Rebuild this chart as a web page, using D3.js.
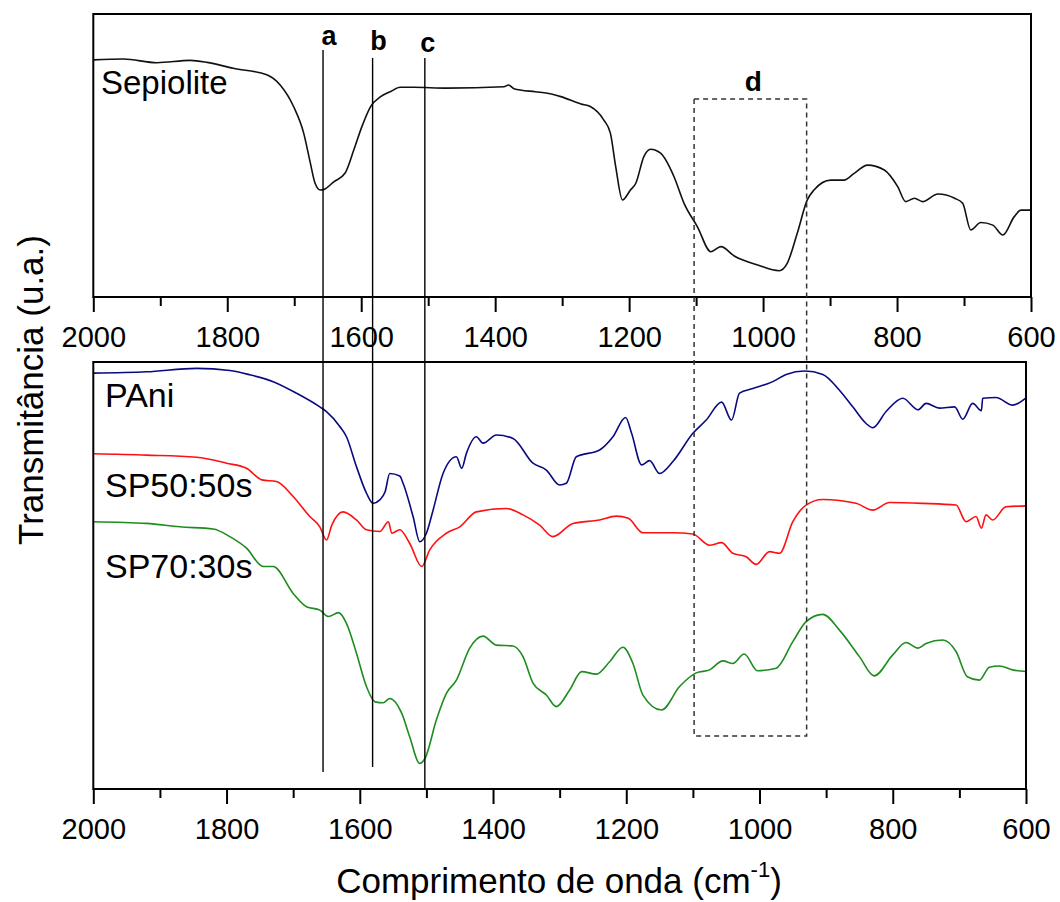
<!DOCTYPE html>
<html>
<head>
<meta charset="utf-8">
<script src="https://cdn.jsdelivr.net/npm/d3@7"></script>
<style>
  body { margin: 0; background: #fff; }
  svg text { font-family: "Liberation Sans", Arial, sans-serif; fill: #000; }
</style>
</head>
<body>
<script>
// Espectros FTIR - leitura aproximada da figura (transmitancia em u.a., 0-100)
var sepWn = [2000,1955,1905,1855,1830,1791,1741,1721,1701,1686,1676,1669,1661,1654,1641,1624,1611,1599,1586,1571,1556,1542,1522,1472,1387,1380,1372,1340,1322,1302,1272,1258,1238,1228,1220,1210,1198,1190,1178,1168,1153,1133,1118,1098,1078,1063,1043,1008,976,964,949,934,924,899,879,864,844,819,799,787,774,762,739,714,702,690,675,657,642,625,615,600];
var sepT  = [83.8,84.1,82.8,83.6,82.9,80.8,78.5,74.9,67.3,58.0,47.4,40.3,37.8,38.2,40.7,43.8,52.0,60.2,67.3,70.8,72.6,74.1,74.1,73.8,74.3,74.9,73.6,72.5,72.0,70.8,68.2,67.3,62.6,57.9,46.0,34.3,37.8,40.2,49.6,52.2,50.8,42.5,33.1,24.8,16.0,17.8,14.5,11.3,9.3,11.9,22.5,34.3,37.8,41.3,41.3,43.7,46.6,44.9,39.0,33.7,34.9,33.7,36.4,34.9,33.1,23.7,26.3,25.4,21.9,28.4,30.7,30.7];

var paniWn = [2000,1920,1845,1795,1765,1730,1695,1660,1650,1630,1620,1605,1590,1580,1570,1562,1555,1540,1535,1520,1510,1500,1490,1475,1455,1447,1440,1425,1415,1395,1370,1340,1320,1300,1290,1275,1240,1220,1201,1192,1177,1165,1150,1130,1100,1080,1057,1042,1030,1010,980,960,932,905,880,860,840,830,810,785,762,750,730,707,695,680,667,665,645,620,600];
var paniT  = [97.4,97.7,98.5,98.0,97.0,95.4,92.7,89.5,88.4,84.9,82.5,75.5,69.3,66.9,67.7,69.6,73.9,73.3,71.6,63.8,57.9,59.9,65.3,73.9,77.8,75.1,78.6,82.5,81.0,82.9,82.1,76.3,74.7,71.2,71.6,77.8,79.4,82.5,87.0,83.3,75.9,76.9,73.9,76.7,83.3,86.4,90.6,86.4,92.7,93.8,95.4,97.1,97.9,97.1,93.4,89.5,85.6,84.6,88.4,91.5,88.8,90.3,89.2,89.5,86.6,90.3,88.6,91.5,91.7,89.9,91.6];

var sp50Wn = [2000,1920,1845,1800,1770,1747,1725,1700,1675,1660,1650,1642,1625,1605,1590,1570,1557,1552,1540,1525,1507,1495,1470,1450,1425,1380,1355,1330,1310,1280,1240,1215,1197,1175,1130,1100,1075,1057,1040,1020,1005,985,970,950,930,905,855,830,805,755,705,690,675,667,660,650,630,600];
var sp50T  = [78.5,78.2,77.7,76.3,75.1,72.4,72.0,68.5,63.8,61.4,58.3,61.8,64.9,63.0,60.7,60.3,62.6,59.9,60.7,57.5,52.1,56.0,59.9,61.4,64.9,65.7,64.2,61.8,59.1,62.2,63.0,63.9,63.4,60.0,60.0,59.7,57.1,57.7,55.2,54.4,52.6,55.6,55.2,62.6,66.5,67.8,66.9,65.3,67.1,66.9,66.5,62.6,63.8,61.1,64.2,63.0,66.1,66.3];

var sp70Wn = [2000,1920,1870,1820,1795,1770,1745,1730,1700,1680,1660,1647,1632,1620,1605,1590,1577,1565,1555,1537,1525,1510,1502,1485,1470,1455,1435,1415,1395,1370,1355,1340,1320,1305,1285,1267,1245,1225,1205,1190,1175,1147,1120,1095,1075,1055,1040,1023,1003,975,950,930,905,880,850,828,800,780,762,750,725,705,688,670,655,640,620,600];
var sp70T  = [62.6,62.2,61.4,60.9,59.1,56.4,52.1,52.1,45.8,42.7,41.9,40.4,41.3,38.8,31.8,24.0,20.4,20.2,21.2,17.7,12.2,6.0,7.2,16.2,22.4,25.5,33.0,35.8,33.7,33.5,31.0,24.8,22.0,19.3,23.2,27.5,26.9,29.8,33.2,29.4,22.0,18.5,24.0,27.2,27.9,30.0,29.4,31.6,27.7,28.3,34.5,39.2,40.9,37.2,31.0,26.5,31.4,34.3,33.0,34.1,34.9,32.2,26.3,25.5,28.5,28.8,27.9,27.5];

var majorTicks = [2000,1800,1600,1400,1200,1000,800,600];
var minorTicks = [1900,1700,1500,1300,1100,900,700];

var markerNames = ["a","b","c"];
var markerWn = [1657,1583,1505];
var boxWn = [1103,935];     // regiao d
var boxName = "d";

var seriesNames = ["PAni","SP50:50s","SP70:30s"];
var seriesColors = ["#0a0a80","#ff1010","#1e8c1e"];

var width = 1060, height = 902;
var svg = d3.select("body").append("svg").attr("width", width).attr("height", height);

// escalas
var xTop = d3.scaleLinear().domain([2000,600]).range([93.3,1031]);
var xBot = d3.scaleLinear().domain([2000,600]).range([93.3,1026]);
var yTop = d3.scaleLinear().domain([0,100]).range([297,14]);
var yBot = d3.scaleLinear().domain([0,100]).range([789,362]);

function frame(x, y) {
    svg.append("rect")
        .attr("x", x.range()[0]).attr("y", y.range()[1])
        .attr("width", x.range()[1]-x.range()[0])
        .attr("height", y.range()[0]-y.range()[1])
        .attr("fill","none").attr("stroke","#000").attr("stroke-width",2);
}

function xAxis(x, y, pad) {
    var g = svg.append("g").attr("transform","translate(0,"+y.range()[0]+")");
    g.call(d3.axisBottom(x).tickValues(majorTicks).tickSize(15).tickPadding(pad).tickSizeOuter(0).tickFormat(d3.format("d")));
    g.select(".domain").remove();
    g.selectAll("line").attr("stroke-width",2);
    g.selectAll("text").style("font-size","29px").style("font-family","'Liberation Sans', Arial, sans-serif");
    var m = svg.append("g").attr("transform","translate(0,"+y.range()[0]+")");
    m.call(d3.axisBottom(x).tickValues(minorTicks).tickSize(9).tickFormat(""));
    m.select(".domain").remove();
    m.selectAll("line").attr("stroke-width",2);
}

function spectrum(x, y, wn, t, color) {
    var line = d3.line()
        .x(function(d) { return x(d[0]); })
        .y(function(d) { return y(d[1]); })
        .curve(d3.curveMonotoneX);
    svg.append("path")
        .attr("d", line(d3.zip(wn, t)))
        .attr("fill","none").attr("stroke",color).attr("stroke-width",1.6)
        .attr("stroke-linejoin","round");
}

// painel superior
spectrum(xTop, yTop, sepWn, sepT, "#111");
frame(xTop, yTop);
xAxis(xTop, yTop, 14);
svg.append("text").attr("x",101).attr("y",94).style("font-size","33px").text("Sepiolite");

// painel inferior
spectrum(xBot, yBot, paniWn, paniT, seriesColors[0]);
spectrum(xBot, yBot, sp50Wn, sp50T, seriesColors[1]);
spectrum(xBot, yBot, sp70Wn, sp70T, seriesColors[2]);
frame(xBot, yBot);
xAxis(xBot, yBot, 14);

var labelY = [407, 497, 578];
seriesNames.forEach(function(s, i) {
    svg.append("text").attr("x",105).attr("y",labelY[i]).style("font-size","34px").text(s);
});

// linhas verticais a, b, c
var markTop = [50, 58, 58], markBottom = [772, 767, 789];
var markLabelY = [45, 50, 52], markLabelDx = [6, 6, 3];
markerNames.forEach(function(m, i) {
    var x = xTop(markerWn[i]);
    svg.append("line").attr("x1",x).attr("x2",x).attr("y1",markTop[i]).attr("y2",markBottom[i])
        .attr("stroke","#000").attr("stroke-width",1.4);
    svg.append("text").attr("x",x+markLabelDx[i]).attr("y",markLabelY[i])
        .attr("text-anchor","middle").style("font-size","27px").style("font-weight","bold").text(m);
});

// caixa d
var bx0 = xTop(boxWn[0]), bx1 = xTop(boxWn[1]);
svg.append("rect").attr("x",bx0).attr("y",99).attr("width",bx1-bx0).attr("height",736-99)
    .attr("fill","none").attr("stroke","#333").attr("stroke-width",1.5).attr("stroke-dasharray","5,4");
svg.append("text").attr("x",(bx0+bx1)/2+3).attr("y",91).attr("text-anchor","middle")
    .style("font-size","28px").style("font-weight","bold").text(boxName);

// titulos dos eixos
svg.append("text").attr("transform","translate(43,390) rotate(-90)").attr("text-anchor","middle")
    .style("font-size","35px").text("Transmitância (u.a.)");
var xt = svg.append("text").attr("x",559).attr("y",893).attr("text-anchor","middle").style("font-size","35px");
xt.append("tspan").text("Comprimento de onda (cm");
xt.append("tspan").attr("dy",-16).style("font-size","22px").text("-1");
xt.append("tspan").attr("dy",16).text(")");
</script>
</body>
</html>
